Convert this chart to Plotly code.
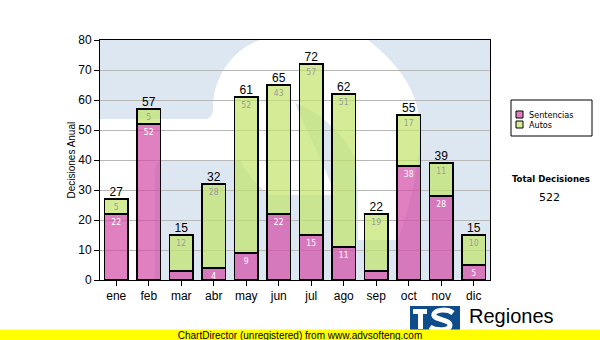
import base64
import plotly.graph_objects as go

# ---- data -------------------------------------------------------------
months = ["ene", "feb", "mar", "abr", "may", "jun", "jul", "ago", "sep", "oct", "nov", "dic"]
sentencias = [22, 52, 3, 4, 9, 22, 15, 11, 3, 38, 28, 5]
autos = [5, 5, 12, 28, 52, 43, 57, 51, 19, 17, 11, 10]
totals = [s + a for s, a in zip(sentencias, autos)]
total_decisiones = sum(totals)
y_ticks = list(range(0, 81, 10))

# ---- geometry helpers (pixel -> paper) ----------------------------------
W, H = 600, 340
L, R, T, B = 100, 110, 40, 60
PW, PH = W - L - R, H - T - B


def px(x):
    return (x - L) / PW


def py(y):
    return (H - B - y) / PH


PINK = "rgba(211,74,165,0.70)"
GREEN = "rgba(194,228,105,0.70)"
SANS = "Liberation Sans, Arial, sans-serif"
TAHOMA = "DejaVu Sans Condensed, DejaVu Sans, sans-serif"

# segments too short to hold a label are left blank
MIN_LABEL = 4


def seg_text(vals):
    return [str(v) if v >= MIN_LABEL else "" for v in vals]


def svg_uri(svg):
    return "data:image/svg+xml;base64," + base64.b64encode(svg.encode()).decode()


# big washed-out "S" emblem behind the bars
watermark = """<svg xmlns='http://www.w3.org/2000/svg' width='390' height='240' viewBox='0 0 390 240' preserveAspectRatio='none'>
<rect width='390' height='240' fill='#DDE7F1'/>
<path fill='#FFFFFF' d='M0,79 L105,79 C112,79 113,72 113,68 C113,35 135,8 160,0 L268,0 C300,25 322,55 320,95 C318,140 305,180 298,200 L258,200 C258,160 258,135 255,118 C245,95 220,72 195,63 C208,95 225,125 235,155 L170,155 C155,145 145,130 140,120 L65,120 C58,120 55,125 55,132 L55,240 L0,240 Z'/>
</svg>"""

# small emblem next to the "Regiones" caption
emblem = """<svg xmlns='http://www.w3.org/2000/svg' width='50' height='34' viewBox='0 0 50 34' preserveAspectRatio='none'>
<rect width='50' height='34' fill='#0F4C8C'/>
<rect x='3' y='3' width='14' height='5' fill='#FFFFFF'/>
<rect x='8' y='3' width='5' height='20' fill='#FFFFFF'/>
<path d='M43,7 C38,3 26,3 24,8 C22,14 40,13 40,19 C40,25 26,25 20,21' fill='none' stroke='#FFFFFF' stroke-width='5'/>
</svg>"""

fig = go.Figure()

fig.add_trace(go.Bar(
    name="Sentencias", x=months, y=sentencias,
    marker=dict(color=PINK, line=dict(color="black", width=1.5)),
    width=0.71, text=seg_text(sentencias), textposition="inside",
    insidetextanchor="end", textangle=0,
    textfont=dict(family=TAHOMA, size=8.5, color="white"),
    hoverinfo="skip", showlegend=False,
))
fig.add_trace(go.Bar(
    name="Autos", x=months, y=autos,
    marker=dict(color=GREEN, line=dict(color="black", width=1.5)),
    width=0.71, text=seg_text(autos), textposition="inside",
    insidetextanchor="end", textangle=0,
    textfont=dict(family=TAHOMA, size=8.5, color="#9A9A9A"),
    hoverinfo="skip", showlegend=False,
))
fig.add_trace(go.Scatter(
    x=months, y=totals, mode="text", text=[str(t) for t in totals],
    textposition="top center", cliponaxis=False,
    textfont=dict(family=SANS, size=12, color="black"),
    hoverinfo="skip", showlegend=False,
))

shapes = [
    # legend box
    dict(type="rect", xref="paper", yref="paper", x0=px(511), x1=px(592),
         y0=py(136), y1=py(100), line=dict(color="black", width=1), fillcolor="white"),
    dict(type="rect", xref="paper", yref="paper", x0=px(516), x1=px(523),
         y0=py(118), y1=py(111), line=dict(color="black", width=1), fillcolor=PINK),
    dict(type="rect", xref="paper", yref="paper", x0=px(516), x1=px(523),
         y0=py(128), y1=py(121), line=dict(color="black", width=1), fillcolor=GREEN),
]

annotations = [
    dict(text="Sentencias", x=px(527), y=py(114.5), xanchor="left", yanchor="middle"),
    dict(text="Autos", x=px(527), y=py(124.5), xanchor="left", yanchor="middle"),
]
for a in annotations:
    a.update(xref="paper", yref="paper", showarrow=False,
             font=dict(family=TAHOMA, size=9, color="black"))

annotations += [
    # y-axis title
    dict(text="Decisiones Anual", x=px(70.5), y=0.5, xref="paper", yref="paper",
         showarrow=False, textangle=-90, xanchor="center", yanchor="middle",
         font=dict(family=SANS, size=10, color="black")),
    dict(text="<b>Total Decisiones</b>", x=px(551), y=py(178), xref="paper", yref="paper",
         showarrow=False, xanchor="center", yanchor="middle",
         font=dict(family=TAHOMA, size=9.5, color="black")),
    dict(text=str(total_decisiones), x=px(549), y=py(197), xref="paper", yref="paper",
         showarrow=False, xanchor="center", yanchor="middle",
         font=dict(family="DejaVu Sans, sans-serif", size=11, color="black")),
    dict(text="Regiones", x=px(467), y=py(316), xref="paper", yref="paper",
         showarrow=False, xanchor="left", yanchor="middle",
         font=dict(family=SANS, size=20, color="black")),
    dict(text="Tribunal Supremo de Justicia", x=px(467), y=py(334), xref="paper", yref="paper",
         showarrow=False, xanchor="left", yanchor="middle",
         font=dict(family=SANS, size=10, color="black")),
    dict(text="ChartDirector (unregistered) from www.advsofteng.com", x=px(300), y=py(335),
         xref="paper", yref="paper", showarrow=False, xanchor="center", yanchor="middle",
         width=600, height=11, bgcolor="#FFFF00", borderpad=0,
         font=dict(family=SANS, size=10, color="black")),
]

fig.update_layout(
    width=W, height=H,
    margin=dict(l=L, r=R, t=T, b=B, pad=0),
    paper_bgcolor="white", plot_bgcolor="#DDE7F1",
    barmode="stack", bargap=0.29,
    uniformtext=dict(minsize=8.5, mode="show"),
    showlegend=False,
    shapes=shapes, annotations=annotations,
    images=[
        dict(source=svg_uri(watermark), xref="paper", yref="paper", x=0, y=1,
             sizex=1, sizey=1, xanchor="left", yanchor="top", sizing="stretch", layer="below"),
        dict(source=svg_uri(emblem), xref="paper", yref="paper", x=px(410), y=py(306),
             sizex=50 / PW, sizey=34 / PH, xanchor="left", yanchor="top", sizing="stretch",
             layer="above"),
    ],
    xaxis=dict(
        type="category", range=[-0.5, 11.5], showline=True, linecolor="black", linewidth=1,
        mirror=True, ticks="outside", ticklen=5, tickcolor="black", showgrid=False,
        tickfont=dict(family=SANS, size=12, color="black"),
    ),
    yaxis=dict(
        range=[0, 80], tickvals=y_ticks, showline=True, linecolor="black", linewidth=1,
        mirror=True, ticks="outside", ticklen=5, tickcolor="black",
        showgrid=True, gridcolor="#B8B8B8", gridwidth=1, zeroline=False,
        tickfont=dict(family=SANS, size=12, color="black"),
        automargin=False,
    ),
)

fig.write_html("out.html")
